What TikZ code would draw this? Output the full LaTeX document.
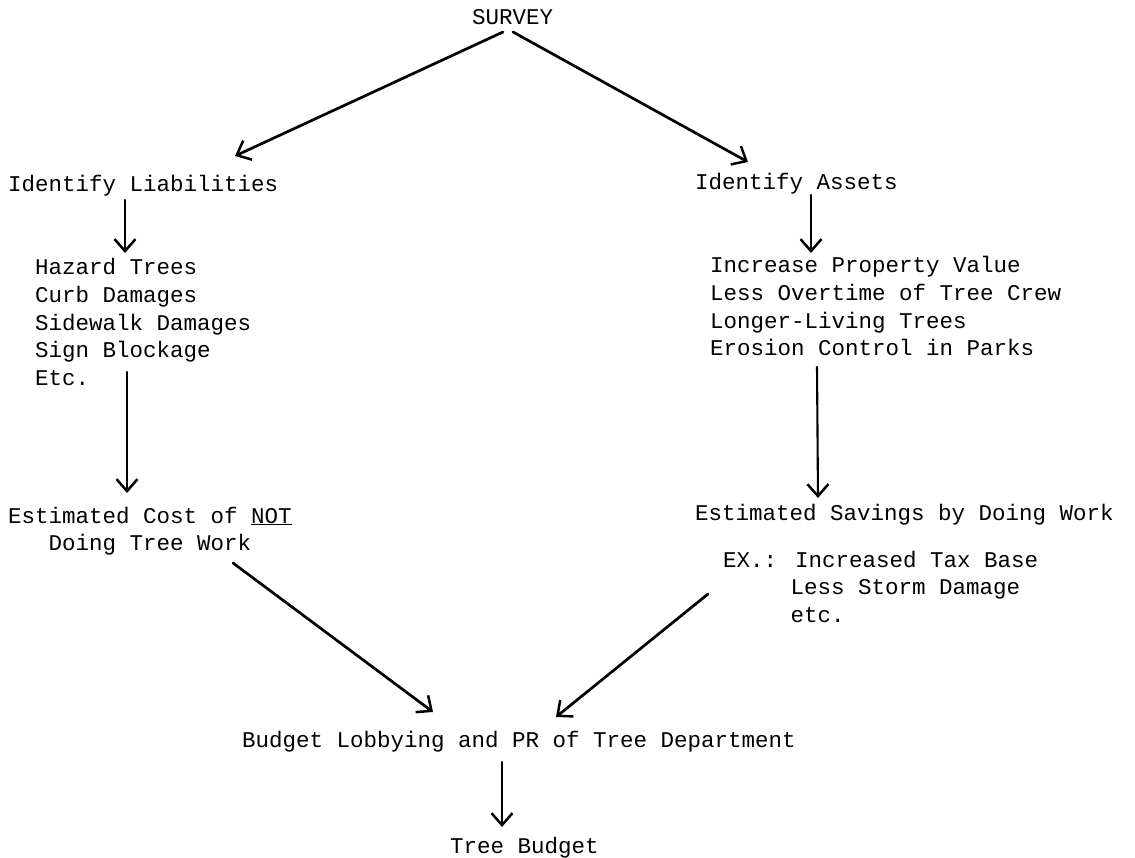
\documentclass[tikz,border=0pt]{standalone}
\usepackage{fontspec}
\setmainfont{Liberation Mono}
\usetikzlibrary{arrows.meta}
\newcommand\linesL[1]{\vtop{\baselineskip=27.6pt\lineskiplimit=-100pt\halign{##\hfil\cr#1\crcr}}}
\newcommand\linesC[1]{\vtop{\baselineskip=27.6pt\lineskiplimit=-100pt\halign{\hfil##\hfil\cr#1\crcr}}}
\begin{document}
\begin{tikzpicture}[x=1pt,y=-1pt,
  txt/.style={anchor=base west, inner sep=0pt, font=\fontsize{22.5}{27.6}\selectfont},
  arr/.style={line width=2.7pt, line cap=round, -{Straight Barb[length=12pt,width=21pt,line width=2.5pt]}},
  varr/.style={line width=2.1pt, line cap=round, -{Straight Barb[length=12pt,width=21pt,line width=2.5pt]}}]
\useasboundingbox (0,0) rectangle (1135,858);
\fill[white] (0,0) rectangle (1135,858);
% texts
\node[txt] (survey) at (472,25) {SURVEY};
\node[txt] (liab) at (8,192) {Identify Liabilities};
\node[txt] (assets) at (695,190) {Identify Assets};
\node[txt] (liablist) at (35,275) {\linesL{Hazard Trees\cr Curb Damages\cr Sidewalk Damages\cr Sign Blockage\cr Etc.}};
\node[txt] (assetlist) at (710,273) {\linesL{Increase Property Value\cr Less Overtime of Tree Crew\cr Longer-Living Trees\cr Erosion Control in Parks}};
\node[txt] (cost) at (8,523) {\linesC{Estimated Cost of \underline{NOT}\cr Doing Tree Work}};
\node[txt] (savings) at (695,520) {Estimated Savings by Doing Work};
\node[txt] (ex) at (723,567) {\linesL{EX.: Increased Tax Base\cr \phantom{EX.:X}Less Storm Damage\cr \phantom{EX.:X}etc.}};
\node[txt] (lobby) at (242,747) {Budget Lobbying and PR of Tree Department};
\node[txt] (tb) at (450,853) {Tree Budget};
% connector ends
\coordinate (s1) at (503,32);  \coordinate (s1e) at (235,156);
\coordinate (s2) at (513,32);  \coordinate (s2e) at (748,162);
\coordinate (l1) at (125,200); \coordinate (l1e) at (125,253);
\coordinate (l2) at (127,372); \coordinate (l2e) at (127,493);
\coordinate (a1) at (811,195); \coordinate (a1e) at (811,253);
\coordinate (a2) at (817,367); \coordinate (a2e) at (818,498);
\coordinate (c1) at (233,563); \coordinate (c1e) at (433,712);
\coordinate (e1) at (708,594); \coordinate (e1e) at (556,717);
\coordinate (b1) at (502,762); \coordinate (b1e) at (502,827);
\draw[arr] (s1) -- (s1e);
\draw[arr] (s2) -- (s2e);
\draw[varr] (l1) -- (l1e);
\draw[varr] (l2) -- (l2e);
\draw[varr] (a1) -- (a1e);
\draw[varr] (a2) -- (a2e);
\draw[arr] (c1) -- (c1e);
\draw[arr] (e1) -- (e1e);
\draw[varr] (b1) -- (b1e);
\end{tikzpicture}
\end{document}
